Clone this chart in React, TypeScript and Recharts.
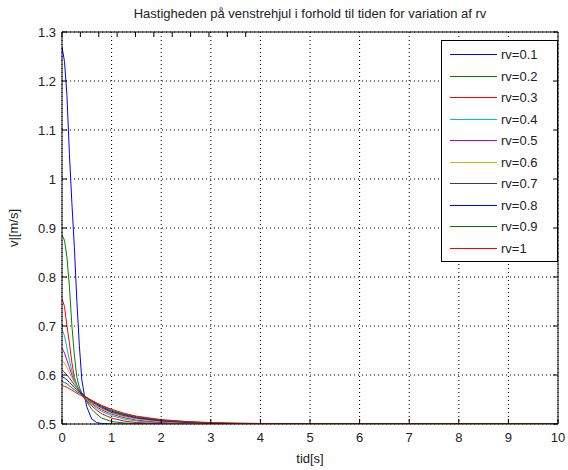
import React from 'react';
import { LineChart, Line, XAxis, YAxis, CartesianGrid } from 'recharts';

// time samples (s)
const times = [0, 0.05, 0.1, 0.15, 0.2, 0.25, 0.3, 0.35, 0.4, 0.45, 0.5, 0.6, 0.7, 0.8, 1, 1.25, 1.5, 2, 2.5, 3, 3.5, 4, 5, 6, 7, 8, 9, 10];

// velocity of left wheel for each rv
const rv01 = [1.27, 1.24, 1.17, 1.05, 0.95, 0.86, 0.75, 0.66, 0.59, 0.56, 0.535, 0.51, 0.503, 0.501, 0.5, 0.5, 0.5, 0.5, 0.5, 0.5, 0.5, 0.5, 0.5, 0.5, 0.5, 0.5, 0.5, 0.5];
const rv02 = [0.886, 0.875, 0.84, 0.78, 0.7, 0.64, 0.595, 0.575, 0.563, 0.553, 0.545, 0.53, 0.52, 0.512, 0.505, 0.502, 0.501, 0.5, 0.5, 0.5, 0.5, 0.5, 0.5, 0.5, 0.5, 0.5, 0.5, 0.5];
const rv03 = [0.756, 0.74, 0.7, 0.665, 0.625, 0.595, 0.578, 0.567, 0.558, 0.552, 0.547, 0.537, 0.528, 0.521, 0.512, 0.506, 0.503, 0.501, 0.5, 0.5, 0.5, 0.5, 0.5, 0.5, 0.5, 0.5, 0.5, 0.5];
const rv04 = [0.693, 0.68, 0.655, 0.63, 0.608, 0.592, 0.58, 0.569, 0.561, 0.555, 0.549, 0.54, 0.532, 0.526, 0.517, 0.51, 0.506, 0.502, 0.501, 0.5, 0.5, 0.5, 0.5, 0.5, 0.5, 0.5, 0.5, 0.5];
const rv05 = [0.655, 0.645, 0.63, 0.615, 0.6, 0.588, 0.578, 0.569, 0.562, 0.556, 0.551, 0.542, 0.535, 0.529, 0.52, 0.513, 0.508, 0.503, 0.501, 0.5, 0.5, 0.5, 0.5, 0.5, 0.5, 0.5, 0.5, 0.5];
const rv06 = [0.63, 0.624, 0.615, 0.605, 0.595, 0.585, 0.577, 0.569, 0.563, 0.557, 0.552, 0.544, 0.537, 0.531, 0.522, 0.515, 0.51, 0.505, 0.502, 0.501, 0.5, 0.5, 0.5, 0.5, 0.5, 0.5, 0.5, 0.5];
const rv07 = [0.61, 0.606, 0.6, 0.594, 0.587, 0.58, 0.574, 0.568, 0.563, 0.558, 0.553, 0.545, 0.539, 0.533, 0.524, 0.517, 0.512, 0.506, 0.503, 0.501, 0.5, 0.5, 0.5, 0.5, 0.5, 0.5, 0.5, 0.5];
const rv08 = [0.597, 0.594, 0.59, 0.585, 0.58, 0.575, 0.57, 0.566, 0.562, 0.558, 0.554, 0.547, 0.541, 0.535, 0.526, 0.519, 0.513, 0.507, 0.504, 0.502, 0.501, 0.5, 0.5, 0.5, 0.5, 0.5, 0.5, 0.5];
const rv09 = [0.587, 0.585, 0.582, 0.578, 0.574, 0.57, 0.566, 0.563, 0.56, 0.557, 0.554, 0.548, 0.542, 0.537, 0.528, 0.52, 0.515, 0.508, 0.505, 0.502, 0.501, 0.5, 0.5, 0.5, 0.5, 0.5, 0.5, 0.5];
const rv10 = [0.578, 0.577, 0.575, 0.572, 0.569, 0.566, 0.563, 0.56, 0.558, 0.555, 0.553, 0.548, 0.543, 0.538, 0.53, 0.522, 0.516, 0.509, 0.505, 0.503, 0.502, 0.501, 0.5, 0.5, 0.5, 0.5, 0.5, 0.5];

const seriesNames = ['rv=0.1', 'rv=0.2', 'rv=0.3', 'rv=0.4', 'rv=0.5', 'rv=0.6', 'rv=0.7', 'rv=0.8', 'rv=0.9', 'rv=1'];
const seriesValues = [rv01, rv02, rv03, rv04, rv05, rv06, rv07, rv08, rv09, rv10];

const xTicks = [0, 1, 2, 3, 4, 5, 6, 7, 8, 9, 10];
const yTicks = [0.5, 0.6, 0.7, 0.8, 0.9, 1, 1.1, 1.2, 1.3];

// MATLAB default line colour order
const COLORS = ['#0000ff', '#008000', '#ff0000', '#00bfbf', '#bf00bf', '#bfbf00', '#404040'];

const FONT = '"Liberation Sans", Arial, sans-serif';
const TEXT = '#222';
const FS = 13;

const data = times.map((t, i) => {
  const row: Record<string, number> = { t };
  seriesValues.forEach((vals, k) => {
    row['s' + k] = vals[i];
  });
  return row;
});

const W = 568;
const H = 470;
// plot area: x 62..558, y 32..424
const PLOT = { left: 62, top: 32, right: 558, bottom: 424 };
const AX_H = 20;
const AX_W = 20;
const M = {
  top: PLOT.top - AX_H,
  left: PLOT.left - AX_W,
  right: W - PLOT.right - AX_W,
  bottom: H - PLOT.bottom - AX_H,
};

// legend box
const LEG = { x: 441, y: 40, w: 116, h: 221, row: 21.5, first: 54 };

const BottomTick = (props: any) => {
  const { x, y, payload } = props;
  return (
    <g>
      <line x1={x} y1={y} x2={x} y2={y - 5} stroke="#000" />
      <text x={x} y={y + 18} textAnchor="middle" fontSize={FS} fontFamily={FONT} fill={TEXT}>
        {payload.value}
      </text>
    </g>
  );
};

const TopTick = (props: any) => {
  const { x, y } = props;
  return <line x1={x} y1={y} x2={x} y2={y + 5} stroke="#000" />;
};

const LeftTick = (props: any) => {
  const { x, y, payload } = props;
  return (
    <g>
      <line x1={x} y1={y} x2={x + 5} y2={y} stroke="#000" />
      <text x={x - 6} y={y + 5} textAnchor="end" fontSize={FS} fontFamily={FONT} fill={TEXT}>
        {String(payload.value)}
      </text>
    </g>
  );
};

const RightTick = (props: any) => {
  const { x, y } = props;
  return <line x1={x} y1={y} x2={x - 5} y2={y} stroke="#000" />;
};

export default function App() {
  const cx = (PLOT.left + PLOT.right) / 2;
  const cy = (PLOT.top + PLOT.bottom) / 2;
  return (
    <div style={{ position: 'absolute', left: 0, top: 0, width: W, height: H, background: '#fff' }}>
      <LineChart width={W} height={H} data={data} margin={M}>
        <CartesianGrid stroke="#000" strokeDasharray="1 3" verticalValues={xTicks} horizontalValues={yTicks} />
        <XAxis
          dataKey="t"
          type="number"
          domain={[0, 10]}
          ticks={xTicks}
          allowDataOverflow
          height={AX_H}
          tickSize={0}
          tickMargin={0}
          tickLine={false}
          axisLine={{ stroke: '#000' }}
          tick={<BottomTick />}
          interval={0}
        />
        <XAxis
          xAxisId="top"
          orientation="top"
          type="number"
          domain={[0, 10]}
          ticks={xTicks}
          allowDataOverflow
          height={AX_H}
          tickSize={0}
          tickMargin={0}
          tickLine={false}
          axisLine={{ stroke: '#000' }}
          tick={<TopTick />}
          interval={0}
        />
        <YAxis
          type="number"
          domain={[0.5, 1.3]}
          ticks={yTicks}
          allowDataOverflow
          width={AX_W}
          tickSize={0}
          tickMargin={0}
          tickLine={false}
          axisLine={{ stroke: '#000' }}
          tick={<LeftTick />}
          interval={0}
        />
        <YAxis
          yAxisId="right"
          orientation="right"
          type="number"
          domain={[0.5, 1.3]}
          ticks={yTicks}
          allowDataOverflow
          width={AX_W}
          tickSize={0}
          tickMargin={0}
          tickLine={false}
          axisLine={{ stroke: '#000' }}
          tick={<RightTick />}
          interval={0}
        />
        {seriesNames.map((name, k) => (
          <Line
            key={name}
            name={name}
            dataKey={'s' + k}
            type="linear"
            stroke={COLORS[k % COLORS.length]}
            strokeWidth={1}
            dot={false}
            isAnimationActive={false}
          />
        ))}
        <text x={cx} y={18} textAnchor="middle" fontSize={FS} fontFamily={FONT} fill={TEXT}>
          Hastigheden på venstrehjul i forhold til tiden for variation af rv
        </text>
        <text x={cx} y={H - 7} textAnchor="middle" fontSize={FS} fontFamily={FONT} fill={TEXT}>
          tid[s]
        </text>
        <text x={18} y={cy} textAnchor="middle" fontSize={FS} fontFamily={FONT} fill={TEXT} transform={`rotate(-90 18 ${cy})`}>
          v|[m/s]
        </text>
        <g>
          <rect x={LEG.x + 0.5} y={LEG.y + 0.5} width={LEG.w} height={LEG.h} fill="#fff" stroke="#000" />
          {seriesNames.map((name, k) => {
            const y = Math.round(LEG.first + k * LEG.row) + 0.5;
            return (
              <g key={name}>
                <line x1={LEG.x + 9} y1={y} x2={LEG.x + 56} y2={y} stroke={COLORS[k % COLORS.length]} />
                <text x={LEG.x + 60} y={y + 4.5} fontSize={FS} fontFamily={FONT} fill={TEXT}>
                  {name}
                </text>
              </g>
            );
          })}
        </g>
      </LineChart>
    </div>
  );
}
